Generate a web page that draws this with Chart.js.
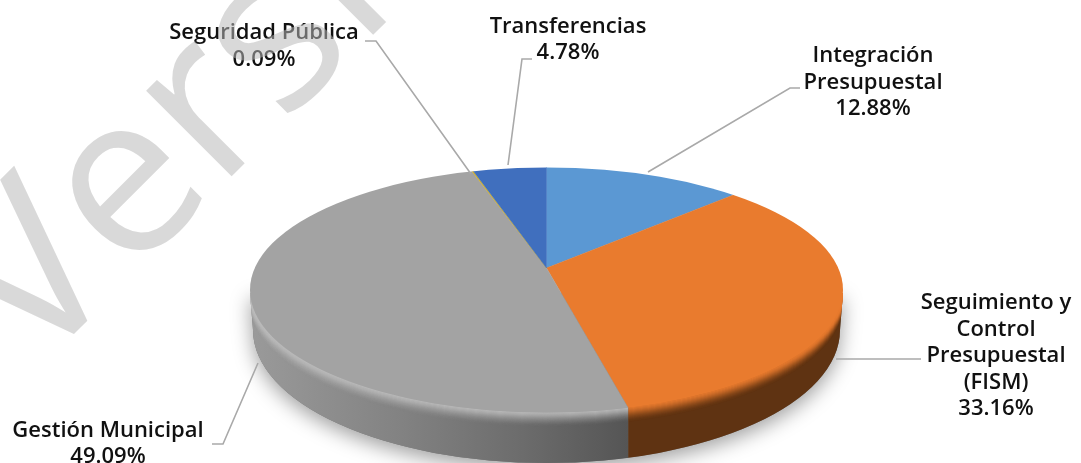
<!DOCTYPE html>
<html>
<head>
<meta charset="utf-8">
<style>
html, body { margin: 0; padding: 0; background: #fff; }
canvas { display: block; }
</style>
<script src="https://cdn.jsdelivr.net/npm/chart.js@4"></script>
</head>
<body>
<canvas id="grafica" width="1081" height="463"></canvas>
<script>
const categorias = ['Integración Presupuestal', 'Seguimiento y Control Presupuestal (FISM)', 'Gestión Municipal', 'Seguridad Pública', 'Transferencias'];
const valores = [12.88, 33.16, 49.09, 0.09, 4.78];
const colores = ['#5b98d3', '#e97b2e', '#a3a3a3', '#d4b020', '#406fbe'];
const coloresBorde = ['#b0d0f0', '#e97b2e', '#bababa', '#d4b020', '#406fbe'];
const lineasEtiqueta = [
    ['Integración', 'Presupuestal', '12.88%'],
    ['Seguimiento y', 'Control', 'Presupuestal', '(FISM)', '33.16%'],
    ['Gestión Municipal', '49.09%'],
    ['Seguridad Pública', '0.09%'],
    ['Transferencias', '4.78%']
];
const marcaAgua = 'Versión';

// posiciones de las etiquetas (centro x, primera linea y, alto de linea)
const posEtiquetas = [
    [873, 56, 26.5],
    [996, 303, 26.5],
    [108, 431, 26],
    [264, 33, 27],
    [568, 27, 26]
];
const guias = [
    [[800, 88], [790, 88], [648, 172]],
    [[921, 359], [836, 359]],
    [[212, 444], [223, 444], [258, 363]],
    [[365, 41], [376, 41], [471, 174]],
    [[532, 59], [522, 59], [508, 165]]
];

// la tapa es una elipse; el pastel se dibuja mas grande y se recorta con ella
const radioPastel = 430;
const escalaArriba = 0.41;
const escalaAbajo = 0.435;
const rx = 296.5;
const ry = 122.5;
const tapaY = 290;
const paredCentroY = 330;
const paredRy = 133;
const paredArriba = 293;

function silueta(ctx, cx) {
    ctx.beginPath();
    ctx.moveTo(cx - rx, paredArriba);
    ctx.lineTo(cx - rx + 3, paredCentroY);
    ctx.ellipse(cx, paredCentroY, rx - 3, paredRy, 0, Math.PI, 0, true);
    ctx.lineTo(cx + rx, paredArriba);
    ctx.closePath();
}

// x donde el radio de angulo a corta la elipse de la tapa
function corteX(a, cx, cy) {
    const dx = Math.cos(a) / rx;
    const dy = Math.sin(a) * escalaAbajo / ry;
    const oy = (cy - tapaY) / ry;
    const A = dx * dx + dy * dy;
    const B = 2 * dy * oy;
    const C = oy * oy - 1;
    const t = (-B + Math.sqrt(B * B - 4 * A * C)) / (2 * A);
    return cx + t * Math.cos(a);
}

function dibujarPared(chart, arcos, cx, cy) {
    const ctx = chart.ctx;
    ctx.save();
    ctx.shadowColor = 'rgba(0,0,0,0.38)';
    ctx.shadowBlur = 20;
    ctx.shadowOffsetY = 6;
    ctx.fillStyle = '#777';
    silueta(ctx, cx);
    ctx.fill();
    ctx.restore();

    arcos.forEach((arco, i) => {
        const ini = Math.max(arco.startAngle, 0);
        const fin = Math.min(arco.endAngle, Math.PI);
        if (fin <= ini) return;
        const xDer = arco.startAngle <= 0 ? cx + rx + 2 : corteX(ini, cx, cy);
        const xIzq = arco.endAngle >= Math.PI ? cx - rx - 2 : corteX(fin, cx, cy);

        ctx.save();
        ctx.beginPath();
        ctx.rect(xIzq, 0, xDer - xIzq, 463);
        ctx.clip();
        silueta(ctx, cx);
        if (i === 2) {
            const g = ctx.createLinearGradient(cx - rx, 0, xDer, 0);
            g.addColorStop(0, '#9a9a9a');
            g.addColorStop(0.4, '#828282');
            g.addColorStop(0.72, '#6c6c6c');
            g.addColorStop(1, '#555555');
            ctx.fillStyle = g;
        } else {
            ctx.fillStyle = '#5f3312';
        }
        ctx.fill();

        // bisel del borde
        ctx.save();
        silueta(ctx, cx);
        ctx.clip();
        for (let k = 14; k >= 0; k--) {
            ctx.globalAlpha = Math.pow(1 - k / 15, 2) * 0.8;
            ctx.strokeStyle = coloresBorde[i];
            ctx.lineWidth = 2;
            ctx.beginPath();
            ctx.ellipse(cx, tapaY + k, rx, ry, 0, -0.05, Math.PI + 0.05);
            ctx.stroke();
        }
        ctx.restore();
        ctx.restore();
    });
}

function recorteTapa(ctx, cx) {
    ctx.beginPath();
    ctx.ellipse(cx, tapaY, rx, ry, 0, 0, Math.PI * 2);
    ctx.clip();
}

const pastel3d = {
    id: 'pastel3d',
    beforeDatasetsDraw(chart) {
        const ctx = chart.ctx;
        const arcos = chart.getDatasetMeta(0).data;
        const cx = arcos[0].x;
        const cy = arcos[0].y;

        dibujarPared(chart, arcos, cx, cy);

        // mitad de abajo
        ctx.save();
        recorteTapa(ctx, cx);
        ctx.beginPath();
        ctx.rect(0, cy - 0.5, chart.width, chart.height);
        ctx.clip();
        ctx.translate(cx, cy);
        ctx.scale(1, escalaAbajo);
        ctx.translate(-cx, -cy);
        arcos.forEach(a => a.draw(ctx));
        ctx.restore();

        // mitad de arriba, la dibuja la libreria
        ctx.save();
        recorteTapa(ctx, cx);
        ctx.beginPath();
        ctx.rect(0, 0, chart.width, cy);
        ctx.clip();
        ctx.translate(cx, cy);
        ctx.scale(1, escalaArriba);
        ctx.translate(-cx, -cy);
    },
    afterDatasetsDraw(chart) {
        chart.ctx.restore();
    },
    afterDraw(chart) {
        const ctx = chart.ctx;
        ctx.save();
        ctx.strokeStyle = '#a9a9a9';
        ctx.lineWidth = 1.6;
        guias.forEach(g => {
            ctx.beginPath();
            g.forEach((p, i) => i ? ctx.lineTo(p[0], p[1]) : ctx.moveTo(p[0], p[1]));
            ctx.stroke();
        });

        ctx.fillStyle = '#111';
        ctx.font = '600 22px "Open Sans"';
        ctx.textAlign = 'center';
        ctx.textBaseline = 'middle';
        lineasEtiqueta.forEach((lineas, i) => {
            const [x, y, alto] = posEtiquetas[i];
            lineas.forEach((t, j) => ctx.fillText(t, x, y + j * alto));
        });
        ctx.restore();

        // marca de agua encima de todo
        ctx.save();
        ctx.translate(33, 375);
        ctx.rotate(-Math.PI / 4);
        ctx.font = '400 226px "Open Sans"';
        ctx.textAlign = 'left';
        ctx.textBaseline = 'alphabetic';
        ctx.fillStyle = 'rgba(185,185,185,0.54)';
        ctx.fillText(marcaAgua, 0, 0);
        ctx.restore();
    }
};

new Chart(document.querySelector('#grafica'), {
    type: 'pie',
    data: {
        labels: categorias,
        datasets: [
            {
                data: valores,
                backgroundColor: colores,
                borderColor: colores,
                borderWidth: 0.6,
                radius: radioPastel,
                clip: false
            }
        ]
    },
    options: {
        responsive: false,
        animation: false,
        layout: { padding: { left: 12, top: 73 } },
        plugins: {
            legend: { display: false },
            tooltip: { enabled: false }
        }
    },
    plugins: [pastel3d]
});
</script>
</body>
</html>
